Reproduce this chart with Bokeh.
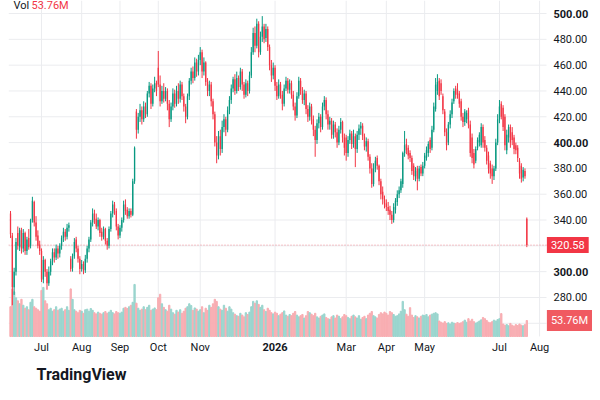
import numpy as np
import pandas as pd
from bokeh.plotting import figure
from bokeh.models import Range1d, Label, Title, ColumnDataSource
from bokeh.core.properties import value, field
from bokeh.embed import file_html
from bokeh.resources import INLINE

# ---- data (daily OHLC, volume in millions) ----
opens = [
    # Jun 2025
    345, 328, 288, 300, 330, 319, 332, 318, 330, 316, 326, 320, 340, 354, 338, 328, 321,
    # Jul
    316, 294, 309, 300, 291, 300, 308, 315, 311, 318, 314, 320, 326, 331, 327, 334, 310, 303, 312, 325, 318, 310,
    # Aug
    302, 306, 301, 310, 318, 325, 338, 345, 341, 335, 340, 331, 327, 333, 324, 320, 333, 345, 352, 347, 335,
    # Sep
    328, 334, 340, 352, 348, 343, 347, 344, 370, 424, 410, 420, 425, 418, 428, 422, 438, 444, 430, 442, 446,
    # Oct
    458, 445, 432, 440, 434, 440, 430, 418, 428, 438, 430, 440, 434, 445, 436, 428, 420, 436, 448, 455, 450, 462, 455,
    # Nov
    464, 470, 455, 462, 447, 440, 445, 432, 422, 400, 390, 405, 395, 412, 418, 410, 425, 433, 442,
    # Dec
    449, 440, 450, 443, 455, 445, 437, 446, 440, 452, 470, 485, 475, 492, 470, 482, 490, 481, 488, 474, 460, 452,
    # Jan 2026
    458, 444, 436, 445, 437, 430, 442, 448, 441, 446, 437, 428, 421, 436, 448, 440, 433, 438, 426, 420,
    # Feb
    428, 418, 410, 402, 415, 420, 412, 428, 433, 422, 414, 417, 406, 414, 408, 400, 410, 416, 404,
    # Mar
    404, 392, 402, 407, 399, 405, 395, 406, 411, 413, 405, 397, 401, 389, 380, 368, 380, 388, 382, 370, 362, 356,
    # Apr
    353, 350, 348, 344, 340, 348, 354, 360, 363, 368, 392, 399, 396, 392, 388, 382, 374, 380, 372, 381, 376,
    # May
    382, 388, 392, 402, 396, 410, 426, 440, 448, 446, 436, 424, 408, 400, 414, 422, 432, 442, 441, 438,
    # Jun
    432, 420, 416, 418, 425, 414, 404, 392, 386, 396, 400, 398, 412, 402, 396, 390, 384, 380, 374, 380, 400,
    # Jul
    418, 430, 427, 420, 394, 404, 412, 408, 404, 398, 396, 386, 382, 373, 378, 341,
]
highs = [
    347, 330, 303, 326, 335, 334, 334, 333, 331, 327, 333, 341, 358, 355, 343, 332, 324,
    318, 312, 310, 302, 304, 310, 318, 318, 321, 320, 322, 328, 334, 333, 337, 338, 312, 314, 326, 327, 320, 312,
    309, 308, 313, 320, 327, 340, 349, 348, 345, 342, 341, 334, 335, 334, 326, 335, 347, 355, 354, 349, 337,
    336, 342, 355, 356, 350, 349, 349, 372, 397, 426, 423, 430, 428, 432, 431, 440, 447, 446, 445, 451, 448,
    471, 452, 444, 446, 443, 442, 433, 431, 442, 441, 444, 446, 448, 447, 438, 430, 438, 450, 458, 459, 466, 465, 468,
    474, 472, 466, 463, 450, 448, 447, 434, 424, 405, 409, 410, 417, 422, 420, 428, 436, 445, 451,
    453, 455, 452, 458, 457, 447, 449, 448, 455, 474, 489, 490, 496, 494, 486, 498, 492, 492, 490, 476, 464, 462,
    460, 447, 449, 447, 440, 445, 451, 450, 449, 448, 440, 431, 439, 451, 450, 443, 441, 440, 429, 431,
    430, 421, 413, 418, 423, 422, 431, 436, 435, 425, 420, 419, 417, 416, 411, 413, 419, 417, 407,
    406, 405, 410, 409, 410, 407, 409, 414, 416, 415, 407, 404, 403, 391, 384, 384, 389, 390, 383, 372, 366, 359,
    356, 354, 351, 347, 353, 357, 363, 366, 372, 393, 409, 403, 398, 394, 390, 384, 381, 382, 382, 383, 385,
    392, 397, 401, 404, 413, 431, 450, 453, 450, 449, 438, 426, 411, 416, 425, 434, 442, 444, 446, 440,
    434, 423, 426, 425, 427, 417, 407, 395, 397, 404, 408, 415, 414, 405, 398, 393, 386, 383, 382, 403, 422,
    433, 432, 429, 422, 410, 414, 414, 412, 406, 400, 398, 388, 384, 381, 380, 342,
]
lows = [
    326, 274, 282, 297, 317, 316, 314, 315, 313, 313, 317, 318, 338, 335, 324, 318, 313,
    292, 291, 296, 286, 289, 297, 305, 307, 309, 310, 311, 317, 323, 324, 325, 331, 300, 300, 310, 315, 307, 298,
    300, 298, 299, 307, 315, 323, 335, 337, 333, 332, 327, 324, 325, 321, 317, 318, 331, 342, 344, 332, 325,
    326, 331, 338, 344, 341, 341, 342, 343, 368, 403, 407, 416, 414, 416, 419, 420, 435, 426, 428, 439, 436,
    443, 428, 430, 431, 432, 425, 412, 416, 425, 427, 428, 430, 431, 433, 424, 415, 418, 433, 445, 446, 448, 451, 452,
    460, 450, 452, 444, 436, 436, 428, 418, 397, 384, 387, 390, 392, 408, 405, 408, 422, 430, 439,
    437, 438, 440, 441, 440, 434, 435, 436, 438, 450, 468, 470, 473, 466, 468, 478, 477, 478, 471, 456, 447, 449,
    440, 433, 434, 434, 425, 428, 440, 438, 438, 434, 425, 417, 419, 434, 437, 430, 429, 422, 416, 417,
    414, 405, 389, 399, 411, 408, 410, 425, 418, 410, 410, 403, 403, 404, 396, 398, 407, 400, 390,
    386, 389, 399, 395, 396, 381, 392, 402, 406, 402, 394, 393, 386, 376, 365, 366, 377, 379, 367, 356, 352, 349,
    347, 344, 340, 337, 338, 345, 351, 357, 361, 365, 389, 391, 387, 385, 375, 371, 370, 363, 370, 374, 374,
    380, 386, 389, 392, 394, 408, 424, 437, 433, 437, 422, 405, 394, 398, 411, 419, 430, 434, 434, 427,
    417, 412, 413, 415, 411, 389, 384, 380, 384, 394, 397, 396, 396, 393, 383, 376, 372, 368, 371, 378, 398,
    415, 418, 409, 394, 391, 400, 396, 398, 391, 391, 385, 372, 369, 370, 372, 319,
]
closes = [
    329, 288, 300, 323, 320, 332, 318, 330, 316, 325, 319, 340, 355, 338, 327, 320, 316,
    294, 309, 300, 291, 300, 308, 315, 311, 318, 314, 320, 326, 331, 327, 334, 336, 302, 312, 323, 318, 310, 302,
    306, 301, 310, 318, 325, 338, 345, 340, 335, 340, 330, 327, 333, 324, 320, 333, 345, 352, 347, 335, 328,
    334, 340, 352, 347, 343, 347, 344, 370, 396, 410, 420, 425, 418, 428, 422, 438, 444, 430, 442, 446, 440,
    445, 432, 440, 434, 440, 430, 418, 428, 438, 430, 440, 434, 445, 436, 428, 420, 436, 448, 455, 450, 462, 455, 464,
    470, 455, 462, 447, 440, 445, 432, 422, 400, 390, 405, 395, 412, 418, 410, 425, 433, 442, 449,
    440, 450, 443, 455, 445, 437, 446, 440, 452, 470, 485, 475, 492, 470, 482, 490, 480, 488, 474, 460, 452, 458,
    444, 436, 445, 437, 430, 442, 448, 441, 446, 437, 428, 421, 436, 448, 440, 433, 438, 426, 420, 428,
    418, 410, 402, 415, 420, 412, 428, 433, 422, 414, 417, 406, 414, 408, 400, 410, 416, 404, 396,
    392, 402, 407, 399, 405, 395, 406, 411, 413, 405, 397, 401, 389, 380, 368, 380, 386, 382, 370, 360, 356, 353,
    350, 347, 344, 340, 350, 355, 360, 363, 370, 392, 398, 394, 390, 388, 378, 374, 378, 372, 380, 376, 382,
    390, 394, 399, 395, 410, 428, 445, 447, 436, 440, 425, 408, 398, 414, 422, 431, 440, 437, 437, 430,
    420, 416, 424, 423, 414, 392, 388, 383, 395, 402, 406, 412, 400, 396, 386, 380, 376, 374, 380, 400, 418,
    428, 420, 412, 398, 406, 412, 400, 402, 395, 394, 388, 376, 372, 379, 374, 320.58,
]
volumes = [
    100, 160, 150, 130, 120, 110, 125, 105, 95, 100, 90, 115, 125, 100, 95, 90, 85,
    155, 165, 120, 110, 90, 95, 85, 90, 100, 88, 92, 95, 85, 90, 100, 88, 160, 125, 90, 85, 80, 88,
    85, 78, 90, 92, 85, 94, 88, 80, 76, 82, 78, 75, 80, 84, 78, 82, 88, 80, 76, 84, 80,
    78, 82, 95, 98, 94, 100, 105, 115, 175, 112, 95, 88, 92, 100, 90, 98, 105, 88, 92, 96, 90,
    130, 142, 110, 98, 90, 85, 105, 92, 80, 75, 88, 82, 90, 78, 85, 95, 100, 110, 104, 88, 96, 92, 85,
    90, 100, 80, 95, 88, 105, 98, 110, 125, 118, 100, 92, 88, 105, 95, 85, 100, 92, 80,
    75, 70, 68, 78, 72, 66, 80, 74, 82, 100, 118, 112, 120, 108, 98, 105, 90, 84, 95, 88, 80, 76,
    82, 78, 70, 75, 80, 86, 72, 68, 74, 70, 78, 84, 72, 66, 70, 74, 62, 70, 84, 80,
    75, 70, 78, 66, 62, 68, 72, 76, 64, 60, 58, 66, 70, 62, 72, 68, 60, 66, 74,
    70, 64, 60, 68, 72, 66, 62, 70, 58, 64, 68, 60, 72, 78, 84, 70, 66, 62, 74, 80, 76, 82,
    78, 72, 84, 80, 74, 68, 70, 76, 85, 118, 90, 75, 68, 97, 72, 64, 70, 66, 62, 68, 72,
    70, 74, 66, 72, 75, 78, 80, 76, 52, 48, 45, 50, 44, 46, 42, 48, 45, 43, 47, 44,
    46, 50, 55, 48, 60, 52, 58, 50, 45, 48, 52, 56, 64, 60, 54, 48, 46, 50, 55, 52, 57,
    60, 77, 42, 38, 40, 36, 44, 38, 35, 40, 37, 42, 38, 36, 40, 53.76,
]
last_price = 320.58
last_volume_label = "53.76M"

price_ticks = [260, 280, 300, 320, 340, 360, 380, 400, 420, 440, 460, 480, 500]
month_keys = ["2025-07", "2025-08", "2025-09", "2025-10", "2025-11", "2026-01",
              "2026-03", "2026-04", "2026-05", "2026-07", "2026-08"]
month_names = ["Jul", "Aug", "Sep", "Oct", "Nov", "2026", "Mar", "Apr", "May", "Jul", "Aug"]
holidays = ["2025-06-19", "2025-07-04", "2025-09-01", "2025-11-27", "2025-12-25",
            "2026-01-01", "2026-01-19", "2026-02-16", "2026-04-03", "2026-05-25",
            "2026-06-19", "2026-07-03"]

# ---- trading-day axis ----
dates = pd.bdate_range("2025-06-05", "2026-08-31", freq="C", holidays=holidays)
ym = np.array(dates.strftime("%Y-%m"))
month_ticks = [int(np.argmax(ym == k)) for k in month_keys]

n = len(closes)
xs = list(range(n))
UP, DOWN = "#089981", "#f23645"
up = [c >= o for o, c in zip(opens, closes)]
ccol = [UP if u else DOWN for u in up]
vcol = ["#9ad5ce" if u else "#f8adb2" for u in up]
body_bot = [min(o, c) for o, c in zip(opens, closes)]
body_top = [max(o, c) for o, c in zip(opens, closes)]

FONT = "Roboto"
TXT = "#131722"
GRID = "#ebecef"
X0, X1 = -1.1, 319.0           # visible trading-day index range (chart + price scale)
SCALE_X = 293.8                # index where the price scale starts
P_TOP, P_FLOOR, P_BOTTOM = 510.1, 249.8, 232.7   # pane top, pane floor, time-axis bottom
TIME_Y = 241.3                 # level of the time-axis labels

p = figure(frame_width=584, frame_height=358,
           x_range=Range1d(X0, X1), y_range=Range1d(P_BOTTOM, P_TOP),
           x_axis_location=None, y_axis_location=None,
           output_backend="svg", toolbar_location=None,
           min_border_left=8, min_border_right=0, min_border_top=0, min_border_bottom=0,
           background_fill_color="white", border_fill_color="white")
p.outline_line_color = None
p.xgrid.visible = False
p.ygrid.visible = False
p.extra_y_ranges = {"vol": Range1d(-73.9, 1129)}

# grid: horizontal at price ticks (up to the price scale), vertical at month starts
p.segment(x0=[X0] * len(price_ticks), y0=price_ticks, x1=[SCALE_X] * len(price_ticks),
          y1=price_ticks, line_color=GRID, line_width=1)
p.segment(x0=month_ticks, y0=[P_FLOOR] * len(month_ticks), x1=month_ticks,
          y1=[P_TOP] * len(month_ticks), line_color=GRID, line_width=1)

# volume
p.vbar(x=xs, top=volumes, bottom=0, width=0.72, color=vcol, y_range_name="vol")

# last price dotted line
p.segment(x0=[X0], y0=[last_price], x1=[SCALE_X], y1=[last_price], line_color=DOWN,
          line_alpha=0.55, line_dash="1 2", line_width=1)

# candles
p.segment(x0=xs, y0=lows, x1=xs, y1=highs, color=ccol, line_width=1)
p.vbar(x=xs, bottom=body_bot, top=body_top, width=0.72, fill_color=ccol, line_color=None)

# price scale labels
price_src = ColumnDataSource(dict(
    x=[SCALE_X + 3.8] * len(price_ticks), y=price_ticks,
    t=[f"{v:.2f}" for v in price_ticks],
    fs=["bold" if v % 100 == 0 else "normal" for v in price_ticks]))
p.text(x="x", y="y", text="t", source=price_src, text_font=value(FONT),
       text_font_size="11px", text_color=TXT, text_baseline="middle",
       text_font_style=field("fs"))

# time scale labels
time_src = ColumnDataSource(dict(
    x=month_ticks, y=[TIME_Y] * len(month_ticks), t=month_names,
    fs=["bold" if t.isdigit() else "normal" for t in month_names]))
p.text(x="x", y="y", text="t", source=time_src, text_font=value(FONT),
       text_font_size="11px", text_color=TXT, text_baseline="middle", text_align="center",
       text_font_style=field("fs"))

# volume caption
p.add_layout(Label(x=1.6, y=P_TOP, text="Vol", text_font=FONT, text_font_size="11px",
                   text_color=TXT, text_baseline="top", y_offset=2))
p.add_layout(Label(x=11.5, y=P_TOP, text=last_volume_label, text_font=FONT,
                   text_font_size="11px", text_color=DOWN, text_baseline="top", y_offset=2))

# price scale tags
p.add_layout(Label(x=SCALE_X + 0.2, y=last_price, text=f"{last_price:.2f}", text_font=FONT,
                   text_font_size="11px", text_color="white", text_baseline="middle",
                   background_fill_color=DOWN, padding=4))
p.add_layout(Label(x=SCALE_X + 0.2, y=volumes[-1], y_range_name="vol", text=last_volume_label,
                   text_font=FONT, text_font_size="11px", text_color="white",
                   text_baseline="middle", background_fill_color="#f05a61", padding=4))

p.add_layout(Title(text="TradingView", align="left", text_font=FONT, text_font_size="16px",
                   text_font_style="bold", text_color=TXT, offset=28, standoff=8), "below")

open("out.html", "w").write(file_html(p, INLINE))
